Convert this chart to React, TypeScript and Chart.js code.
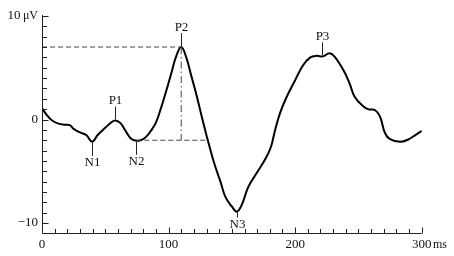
import React, { useEffect, useRef } from "react";
import { Chart, registerables } from "chart.js";

Chart.register(...registerables);

// ERP waveform (time in ms, amplitude in µV)
const timeMs = [
  0, 4, 8, 13, 18, 22, 25, 30, 35, 39.5, 44, 50, 55, 58, 62, 66, 70, 74.5, 78, 82, 86, 90, 94, 98,
  102, 106, 110, 114, 118, 122, 126, 131, 136, 141, 145, 150, 154, 158, 163, 170, 177, 181, 184, 188,
  193, 200, 206, 212, 217, 222, 227, 231, 238, 243, 247, 254, 258, 263, 267, 271, 275, 283, 289, 295,
  300,
];
const amplitudeUv = [
  1.1, 0.4, -0.1, -0.4, -0.5, -0.55, -0.9, -1.25, -1.5, -2.15, -1.5, -0.8, -0.25, -0.1, -0.35, -1.1,
  -1.8, -2.05, -2.0, -1.7, -1.1, -0.3, 1.1, 2.7, 4.4, 6.1, 7.0, 6.0, 4.2, 2.4, 0.4, -2.0, -4.2, -6.0,
  -7.5, -8.4, -8.9, -8.2, -6.5, -5.1, -3.7, -2.6, -1.1, 0.6, 2.1, 3.8, 5.2, 6.0, 6.15, 6.1, 6.4, 6.1,
  4.8, 3.5, 2.2, 1.25, 0.98, 0.92, 0.3, -1.3, -1.9, -2.15, -1.95, -1.5, -1.1,
];

// Peak annotations
const peakNames = ["P1", "P2", "P3", "N1", "N2", "N3"];
const peakMs = [58, 110, 221.5, 39.5, 74.5, 154];
const peakUv = [-0.1, 7.0, 6.1, -2.15, -2.05, -8.9];

// Measurement guides for P2
const p2Ms = 110;
const p2Uv = 7;
const baseUv = -2;
const baseStartMs = 74.5;
const baseEndMs = 131;

// Axes
const xMin = 0;
const xMax = 300;
const yMin = -11;
const yMax = 10;
const xTickValues = [0, 100, 200, 300];
const xTickLabels = ["0", "100", "200", "300"];
const yTickValues = [10, 0, -10];
const yTickLabels = ["10", "0", "\u221210"];
const xUnit = "ms";
const yUnit = "\u03bcV";

const SERIF = '"Liberation Serif", "Times New Roman", serif';

const axesPlugin = {
  id: "customAxes",
  afterDraw(chart: any) {
    const { ctx, chartArea } = chart;
    const xs = chart.scales.x;
    const ys = chart.scales.y;
    const x0 = Math.round(xs.getPixelForValue(xMin)) + 0.5;
    const yb = Math.round(ys.getPixelForValue(yMin)) + 0.5;
    const xr = xs.getPixelForValue(xMax);
    const yt = ys.getPixelForValue(yMax) - 1;
    ctx.save();
    ctx.strokeStyle = "#222";
    ctx.lineWidth = 1;
    ctx.beginPath();
    ctx.moveTo(x0, yt);
    ctx.lineTo(x0, yb);
    ctx.lineTo(xr, yb);
    ctx.stroke();
    // y ticks (inward)
    ctx.beginPath();
    for (let v = -10; v <= 10; v++) {
      const py = Math.round(ys.getPixelForValue(v)) + 0.5;
      const len = v % 10 === 0 ? 6 : 4.5;
      ctx.moveTo(x0, py);
      ctx.lineTo(x0 + len, py);
    }
    // x ticks (inward)
    for (let t = 10; t <= 300; t += 10) {
      const px = Math.round(xs.getPixelForValue(t)) + 0.5;
      const len = t % 100 === 0 ? 6 : 4.5;
      ctx.moveTo(px, yb);
      ctx.lineTo(px, yb - len);
    }
    ctx.stroke();

    ctx.fillStyle = "#111";
    ctx.textBaseline = "middle";
    // y labels
    ctx.font = `13px ${SERIF}`;
    ctx.textAlign = "right";
    yTickValues.forEach((v, i) => {
      const py = ys.getPixelForValue(v);
      if (i === 0) {
        ctx.font = `12px ${SERIF}`;
        const uw = ctx.measureText(yUnit).width;
        ctx.fillText(yUnit, x0 - 4.5, py);
        ctx.font = `13px ${SERIF}`;
        ctx.fillText(yTickLabels[i], x0 - 4.5 - uw - 2.5, py);
      } else {
        ctx.fillText(yTickLabels[i], x0 - 4.5, py);
      }
    });
    // x labels
    ctx.textAlign = "center";
    const ly = yb + 11.5;
    xTickValues.forEach((v, i) => {
      const px = xs.getPixelForValue(v);
      ctx.font = `13px ${SERIF}`;
      ctx.fillText(xTickLabels[i], px, ly);
      if (i === xTickValues.length - 1) {
        const w = ctx.measureText(xTickLabels[i]).width;
        ctx.font = `12px ${SERIF}`;
        ctx.textAlign = "left";
        ctx.fillText(xUnit, px + w / 2 + 1.5, ly);
        ctx.textAlign = "center";
      }
    });

    // peak labels
    ctx.font = `13px ${SERIF}`;
    ctx.textAlign = "center";
    ctx.beginPath();
    peakNames.forEach((name, i) => {
      const px = Math.round(xs.getPixelForValue(peakMs[i])) + 0.5;
      const py = ys.getPixelForValue(peakUv[i]);
      const up = name.startsWith("P");
      const tick = name === "N3" ? 5 : 13;
      if (up) {
        const a = py - 1;
        const b = a - tick;
        ctx.moveTo(px, a);
        ctx.lineTo(px, b);
        ctx.fillText(name, px, b - 5.5);
      } else {
        const a = py + 1;
        const b = a + tick;
        ctx.moveTo(px, a);
        ctx.lineTo(px, b);
        ctx.fillText(name, px, b + 7);
      }
    });
    ctx.stroke();
    ctx.restore();
  },
};

export default function App() {
  const ref = useRef<HTMLCanvasElement | null>(null);
  useEffect(() => {
    if (!ref.current) return;
    const wave = timeMs.map((t, i) => ({ x: t, y: amplitudeUv[i] }));
    const chart = new Chart(ref.current, {
      type: "line",
      data: {
        datasets: [
          {
            data: [
              { x: xMin, y: p2Uv },
              { x: p2Ms, y: p2Uv },
            ],
            borderColor: "#444",
            borderWidth: 1,
            borderDash: [5, 3],
            pointRadius: 0,
            tension: 0,
          },
          {
            data: [
              { x: baseStartMs, y: baseUv },
              { x: baseEndMs, y: baseUv },
            ],
            borderColor: "#444",
            borderWidth: 1,
            borderDash: [5, 3],
            pointRadius: 0,
            tension: 0,
          },
          {
            data: [
              { x: p2Ms, y: p2Uv },
              { x: p2Ms, y: baseUv },
            ],
            borderColor: "#444",
            borderWidth: 1,
            borderDash: [7, 3, 1.5, 3],
            pointRadius: 0,
            tension: 0,
          },
          {
            data: wave,
            borderColor: "#000",
            borderWidth: 2,
            pointRadius: 0,
            tension: 0.4,
          },
        ],
      },
      options: {
        animation: false,
        responsive: true,
        maintainAspectRatio: false,
        layout: { padding: { left: 42, right: 32.3, top: 16, bottom: 22.6 } },
        plugins: { legend: { display: false }, tooltip: { enabled: false } },
        scales: {
          x: { type: "linear", min: xMin, max: xMax, display: false },
          y: { type: "linear", min: yMin, max: yMax, display: false },
        },
      },
      plugins: [axesPlugin],
    });
    return () => chart.destroy();
  }, []);
  return (
    <div style={{ position: "fixed", left: 0, top: 0, width: 454, height: 256, background: "#fff" }}>
      <canvas ref={ref} />
    </div>
  );
}
